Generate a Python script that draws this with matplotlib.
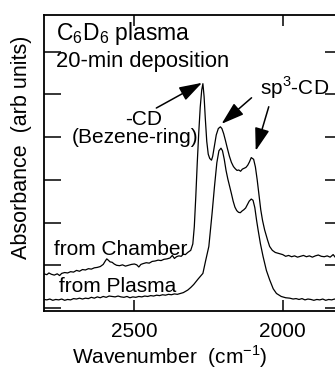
import matplotlib
matplotlib.use("Agg")
import matplotlib.pyplot as plt

plt.rcParams['font.family'] = ['Liberation Sans', 'DejaVu Sans']
plt.rcParams['mathtext.fontset'] = 'custom'
plt.rcParams['mathtext.rm'] = 'Liberation Sans'

# --- data (wavenumber cm-1, absorbance in tick units) ---
chamber_w = [2805, 2795, 2788, 2780, 2770, 2760, 2752, 2745, 2735, 2725, 2715, 2705,
             2695, 2685, 2675, 2665, 2655, 2645, 2635, 2625, 2615, 2605, 2598, 2593,
             2588, 2582, 2575, 2568, 2560, 2550, 2540, 2530, 2520, 2510, 2500, 2492,
             2485, 2478, 2470, 2460, 2450, 2440, 2430, 2420, 2410, 2400, 2390, 2380,
             2372, 2365, 2358, 2350, 2342, 2335, 2328, 2320, 2310, 2303, 2298, 2293,
             2288, 2283, 2278, 2273, 2269, 2265, 2261, 2256, 2251, 2246, 2240, 2236,
             2230, 2224, 2217, 2210, 2205, 2199, 2193, 2187, 2180, 2173, 2166, 2160,
             2154, 2148, 2142, 2136, 2130, 2124, 2118, 2112, 2106, 2098, 2092, 2086,
             2080, 2074, 2068, 2061, 2051, 2044, 2035, 2025, 2010, 2000, 1990, 1980,
             1970, 1960, 1950, 1940, 1930, 1920, 1910, 1900, 1890, 1880, 1870, 1860,
             1850, 1840, 1830, 1822, 1810, 1800]
chamber_a = [0.80, 0.78, 0.82, 0.79, 0.77, 0.80, 0.76, 0.81, 0.83, 0.82, 0.85, 0.84,
             0.88, 0.86, 0.90, 0.89, 0.92, 0.91, 0.94, 0.95, 0.97, 1.02, 1.10, 1.15,
             1.12, 1.08, 1.07, 1.03, 1.00, 0.99, 1.01, 0.98, 1.00, 1.02, 1.03, 1.01,
             0.96, 1.02, 1.04, 1.06, 1.05, 1.09, 1.10, 1.12, 1.11, 1.14, 1.15, 1.17,
             1.23, 1.16, 1.20, 1.22, 1.21, 1.26, 1.25, 1.30, 1.35, 1.50, 1.90, 2.60,
             3.40, 4.10, 4.70, 5.10, 5.25, 4.95, 4.45, 3.90, 3.60, 3.50, 3.46, 3.55,
             3.80, 4.05, 4.20, 4.24, 4.20, 4.08, 3.92, 3.75, 3.56, 3.41, 3.31, 3.26,
             3.22, 3.23, 3.20, 3.25, 3.27, 3.29, 3.34, 3.42, 3.52, 3.48, 3.30, 3.00,
             2.65, 2.30, 2.05, 1.83, 1.59, 1.44, 1.35, 1.30, 1.27, 1.25, 1.21, 1.23,
             1.20, 1.22, 1.19, 1.21, 1.23, 1.20, 1.22, 1.19, 1.22, 1.24, 1.21, 1.20,
             1.22, 1.19, 1.25, 1.18, 1.20, 1.19]

plasma_w = [2805, 2795, 2785, 2775, 2765, 2755, 2745, 2735, 2725, 2715, 2705, 2695,
            2685, 2675, 2665, 2655, 2645, 2635, 2625, 2615, 2605, 2595, 2585, 2575,
            2565, 2555, 2545, 2535, 2525, 2515, 2505, 2495, 2485, 2475, 2465, 2455,
            2445, 2435, 2425, 2415, 2405, 2395, 2385, 2375, 2365, 2355, 2345, 2335,
            2320, 2310, 2300, 2285, 2269, 2260, 2249, 2238, 2230, 2222, 2215, 2208,
            2203, 2197, 2191, 2185, 2179, 2173, 2167, 2161, 2155, 2149, 2143, 2137,
            2131, 2125, 2119, 2113, 2106, 2100, 2094, 2088, 2083, 2075, 2066, 2055,
            2044, 2032, 2021, 2005, 1990, 1976, 1965, 1955, 1945, 1935, 1925, 1915,
            1905, 1895, 1885, 1875, 1865, 1855, 1845, 1835, 1825, 1815, 1800]
plasma_a = [0.20, 0.19, 0.21, 0.18, 0.20, 0.19, 0.21, 0.18, 0.20, 0.19, 0.22, 0.21,
            0.23, 0.21, 0.23, 0.22, 0.25, 0.23, 0.26, 0.24, 0.27, 0.25, 0.28, 0.27,
            0.26, 0.28, 0.26, 0.25, 0.27, 0.24, 0.26, 0.25, 0.27, 0.26, 0.28, 0.27,
            0.29, 0.28, 0.30, 0.29, 0.31, 0.30, 0.32, 0.31, 0.33, 0.32, 0.34, 0.36,
            0.42, 0.48, 0.55, 0.68, 0.81, 1.10, 1.44, 2.22, 2.84, 3.40, 3.68, 3.74,
            3.68, 3.48, 3.22, 3.02, 2.85, 2.68, 2.50, 2.36, 2.28, 2.24, 2.23, 2.27,
            2.30, 2.34, 2.42, 2.50, 2.55, 2.52, 2.35, 2.05, 1.83, 1.50, 1.20, 0.88,
            0.66, 0.45, 0.34, 0.27, 0.24, 0.23, 0.21, 0.22, 0.20, 0.22, 0.19, 0.21,
            0.20, 0.18, 0.20, 0.19, 0.21, 0.18, 0.20, 0.19, 0.21, 0.19, 0.20]

x_ticks = [2500, 2000]
y_ticks = [0, 1, 2, 3, 4, 5, 6]

# --- figure ---
fig = plt.figure(figsize=(3.35, 3.72), dpi=100)
ax = fig.add_axes([0.131, 0.164, 0.89, 0.796])

ax.plot(chamber_w, chamber_a, color='black', lw=0.9)
ax.plot(plasma_w, plasma_a, color='black', lw=0.9)

ax.set_xlim(2805, 1800)
ax.set_ylim(-0.07, 6.86)
ax.set_xticks(x_ticks)
ax.set_yticks(y_ticks)
ax.set_yticklabels([])
ax.tick_params(direction='in', top=True, right=True, labelsize=15, width=1.1)
ax.tick_params(axis='x', length=8, pad=8)
ax.tick_params(axis='y', length=12)
for s in ax.spines.values():
    s.set_linewidth(1.3)

ax.set_xlabel('Wavenumber  (cm$^{-1}$)', fontsize=15, labelpad=2)
ax.xaxis.label.set_x(0.423)
ax.set_ylabel('Absorbance  (arb units)', fontsize=15.5, labelpad=5)
ax.yaxis.label.set_y(0.554)

# annotations
ax.text(2763, 6.28, 'C$_6$D$_6$ plasma', fontsize=16.5)
ax.text(2763, 5.64, '20-min deposition', fontsize=15.8)
ax.text(2531, 4.29, '-CD', fontsize=15, ha='left')
ax.text(2710, 3.86, '(Bezene-ring)', fontsize=15, ha='left')
ax.text(2078, 4.99, 'sp$^3$-CD', fontsize=15)
ax.text(2770, 1.24, 'from Chamber', fontsize=15)
ax.text(2753, 0.38, 'from Plasma', fontsize=15)

arrow = dict(arrowstyle='-|>,head_length=1.4,head_width=0.45', color='black',
             lw=1.1, shrinkA=0, shrinkB=0, mutation_scale=10)
ax.annotate('', xy=(2272, 5.27), xytext=(2426, 4.68), arrowprops=arrow)
ax.annotate('', xy=(2206, 4.31), xytext=(2105, 4.92), arrowprops=arrow)
ax.annotate('', xy=(2091, 3.68), xytext=(2047, 4.71), arrowprops=arrow)

fig.savefig('out.png', dpi=100)
